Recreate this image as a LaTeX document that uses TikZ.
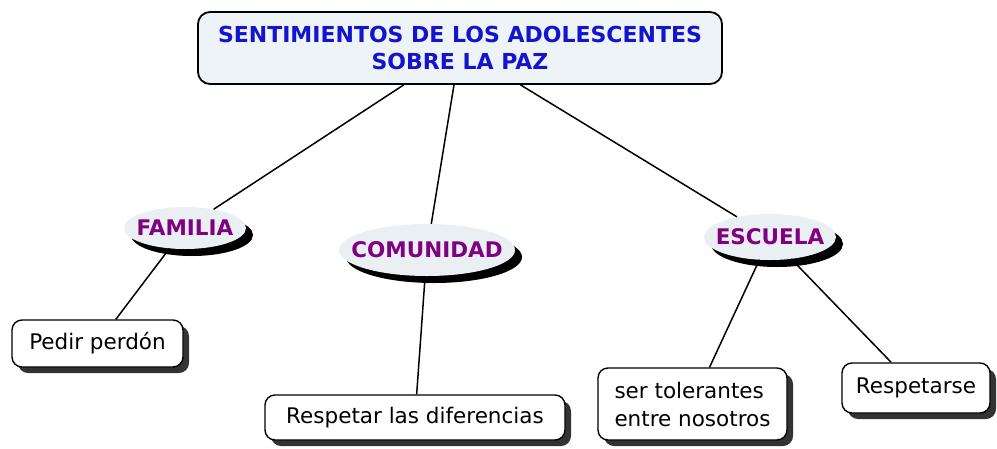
\documentclass[tikz,border=0pt]{standalone}
\usepackage{fontspec}
\setmainfont{DejaVu Sans}
\usetikzlibrary{shapes.geometric,shadows}
\definecolor{titlefill}{HTML}{EDF3F7}
\definecolor{titleblue}{HTML}{1414CC}
\definecolor{catpurple}{HTML}{800080}
\definecolor{ellfill}{HTML}{E9EFF3}
\newcommand{\zw}[1]{\makebox[0pt]{#1}}
\tikzset{
  titlebox/.style={draw=black, line width=1.8pt, rounded corners=12pt, fill=titlefill,
    minimum width=524pt, minimum height=72pt, inner sep=0pt, align=center,
    text=titleblue, font=\fontsize{22}{27}\selectfont\bfseries},
  catnode/.style={ellipse, fill=ellfill, inner sep=0pt, text=catpurple,
    font=\fontsize{21.5}{24}\selectfont\bfseries,
    drop shadow={shadow xshift=7pt, shadow yshift=-7pt, fill=black, opacity=1}},
  leafbox/.style={draw=black, line width=1.4pt, rounded corners=10pt, fill=white,
    inner sep=0pt, align=left, font=\fontsize{21.5}{28}\selectfont,
    drop shadow={shadow xshift=6pt, shadow yshift=-6pt, fill=black!80, opacity=1}},
  link/.style={draw=black, line width=1.5pt}
}
\begin{document}
\begin{tikzpicture}[x=1pt,y=-1pt]
\useasboundingbox (0,0) rectangle (997,448);
\node[titlebox] (title) at (460,48) {SENTIMIENTOS DE LOS ADOLESCENTES\\SOBRE LA PAZ};
\node[catnode, minimum width=122pt, minimum height=42pt] (fam) at (185,228) {\zw{FAMILIA}};
\node[catnode, minimum width=176pt, minimum height=52pt] (com) at (427,250) {\zw{COMUNIDAD}};
\node[catnode, minimum width=132pt, minimum height=46pt] (esc) at (770,237) {\zw{ESCUELA}};
\node[leafbox, minimum width=171pt, minimum height=47pt] (ped) at (97.5,343.5) {Pedir perdón};
\node[leafbox, minimum width=300pt, minimum height=45pt] (res) at (415,417.5) {Respetar las diferencias};
\node[leafbox, minimum width=189pt, minimum height=72pt] (tol) at (692.5,404) {ser tolerantes\\entre nosotros};
\node[leafbox, minimum width=148pt, minimum height=50pt] (rse) at (916,388) {Respetarse};
\path[link] (title) -- (fam);
\path[link] (title) -- (com);
\path[link] (title) -- (esc);
\path[link] (fam) -- (ped);
\path[link] (com) -- (res);
\path[link] (esc) -- (tol);
\path[link] (esc) -- (rse);
\end{tikzpicture}
\end{document}
